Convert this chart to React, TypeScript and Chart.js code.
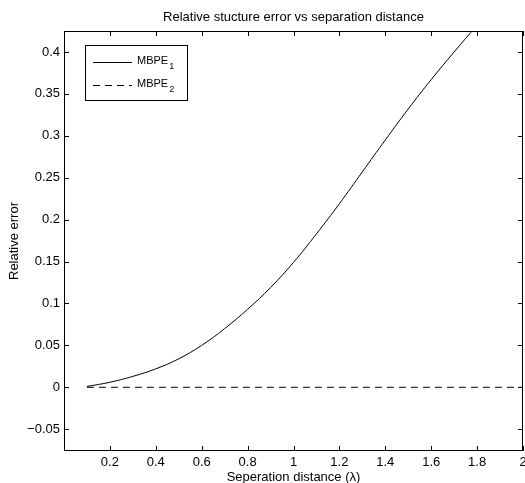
import { useEffect, useRef } from "react";
import { Chart, registerables } from "chart.js";

Chart.register(...registerables);

// ---- data ----
const xValues = [0.1, 0.2, 0.3, 0.4, 0.5, 0.6, 0.7, 0.8, 0.9, 1.0, 1.1, 1.2, 1.3, 1.4, 1.5, 1.6, 1.7, 1.8];
const mbpe1 = [0.001, 0.006, 0.013, 0.022, 0.034, 0.05, 0.07, 0.093, 0.119, 0.149, 0.183, 0.219, 0.257, 0.295, 0.332, 0.367, 0.4, 0.432];
const mbpe2X = [0.1, 2.0];
const mbpe2 = [0, 0];

const xTicks = [0, 0.2, 0.4, 0.6, 0.8, 1.0, 1.2, 1.4, 1.6, 1.8, 2.0];
const xTickLabels = ["", "0.2", "0.4", "0.6", "0.8", "1", "1.2", "1.4", "1.6", "1.8", "2"];
const yTicks = [-0.05, 0, 0.05, 0.1, 0.15, 0.2, 0.25, 0.3, 0.35, 0.4];
const yTickLabels = ["\u22120.05", "0", "0.05", "0.1", "0.15", "0.2", "0.25", "0.3", "0.35", "0.4"];

const titleText = "Relative stucture error vs separation distance";
const xTitle = "Seperation distance (\u03bb)";
const yTitle = "Relative error";
const legendNames = ["MBPE", "MBPE"];
const legendSubs = ["1", "2"];

const FONT = '"Liberation Sans", Arial, Helvetica, sans-serif';

const framePlugin = {
  id: "matlabFrame",
  afterDraw(chart: any) {
    const { ctx, chartArea: a, scales } = chart;
    const L = Math.round(a.left), R = Math.round(a.right), T = Math.round(a.top), B = Math.round(a.bottom);
    ctx.save();
    ctx.strokeStyle = "#000";
    ctx.lineWidth = 1;
    ctx.setLineDash([]);
    ctx.strokeRect(L + 0.5, T + 0.5, R - L - 1, B - T - 1);
    const tl = 5;
    ctx.beginPath();
    scales.x.ticks.forEach((t: any) => {
      const px = Math.round(scales.x.getPixelForValue(t.value)) + 0.5;
      ctx.moveTo(px, B);
      ctx.lineTo(px, B - tl);
      ctx.moveTo(px, T);
      ctx.lineTo(px, T + tl);
    });
    scales.y.ticks.forEach((t: any) => {
      const py = Math.round(scales.y.getPixelForValue(t.value)) + 0.5;
      ctx.moveTo(L, py);
      ctx.lineTo(L + tl, py);
      ctx.moveTo(R, py);
      ctx.lineTo(R - tl, py);
    });
    ctx.stroke();

    ctx.fillStyle = "#000";
    ctx.font = `13px ${FONT}`;
    ctx.textAlign = "center";
    ctx.textBaseline = "middle";
    const cx = (a.left + a.right) / 2;
    ctx.fillText(titleText, cx, 17);
    ctx.fillText(xTitle, cx, 477);
    ctx.save();
    ctx.translate(14, (a.top + a.bottom) / 2);
    ctx.rotate(-Math.PI / 2);
    ctx.fillText(yTitle, 0, 0);
    ctx.restore();

    // legend
    const lx = L + 21, ly = T + 14, lw = 102, lh = 55;
    ctx.fillStyle = "#fff";
    ctx.fillRect(lx, ly, lw, lh);
    ctx.strokeRect(lx + 0.5, ly + 0.5, lw, lh);
    const rows = [ly + 16.5, ly + 39.5];
    const dashes = [[], [7, 5]];
    rows.forEach((ry, i) => {
      ctx.beginPath();
      ctx.setLineDash(dashes[i]);
      ctx.moveTo(lx + 8, Math.round(ry) + 0.5);
      ctx.lineTo(lx + 47, Math.round(ry) + 0.5);
      ctx.stroke();
      ctx.setLineDash([]);
      ctx.fillStyle = "#000";
      ctx.textAlign = "left";
      ctx.textBaseline = "alphabetic";
      ctx.font = `11px ${FONT}`;
      const tx = lx + 52;
      ctx.fillText(legendNames[i], tx, ry + 2.5);
      const w = ctx.measureText(legendNames[i]).width;
      ctx.font = `9px ${FONT}`;
      ctx.fillText(legendSubs[i], tx + w + 1, ry + 7.5);
    });
    ctx.restore();
  },
};

export default function App() {
  const ref = useRef<HTMLCanvasElement>(null);
  useEffect(() => {
    if (!ref.current) return;
    const chart = new Chart(ref.current, {
      type: "line",
      data: {
        datasets: [
          {
            label: "MBPE1",
            data: xValues.map((x, i) => ({ x, y: mbpe1[i] })),
            borderColor: "#000",
            borderWidth: 1,
            pointRadius: 0,
            fill: false,
            tension: 0.4,
          },
          {
            label: "MBPE2",
            data: mbpe2X.map((x, i) => ({ x, y: mbpe2[i] })),
            borderColor: "#000",
            borderWidth: 1,
            borderDash: [7, 5],
            pointRadius: 0,
            fill: false,
          },
        ],
      },
      options: {
        responsive: false,
        animation: false,
        events: [],
        devicePixelRatio: 1,
        layout: { padding: { top: 31, right: 2, left: 0, bottom: 0 } },
        plugins: {
          legend: { display: false },
          title: { display: false },
          tooltip: { enabled: false },
        },
        scales: {
          x: {
            type: "linear",
            min: 0,
            max: 2,
            grid: { display: false, drawTicks: false },
            border: { display: false },
            ticks: {
              padding: 4,
              color: "#000",
              autoSkip: false,
              maxRotation: 0,
              font: { family: FONT, size: 13 },
              callback: (_v: any, i: number) => xTickLabels[i],
            },
            afterBuildTicks: (s: any) => {
              s.ticks = xTicks.map((v) => ({ value: v }));
            },
            afterFit: (s: any) => {
              s.height = 32;
              s.paddingLeft = 0;
              s.paddingRight = 0;
            },
          },
          y: {
            type: "linear",
            min: -0.076,
            max: 0.425,
            grid: { display: false, drawTicks: false },
            border: { display: false },
            ticks: {
              padding: 4,
              color: "#000",
              autoSkip: false,
              font: { family: FONT, size: 13 },
              callback: (_v: any, i: number) => yTickLabels[i],
            },
            afterBuildTicks: (s: any) => {
              s.ticks = yTicks.map((v) => ({ value: v }));
            },
            afterFit: (s: any) => {
              s.width = 64;
              s.paddingTop = 0;
              s.paddingBottom = 0;
            },
          },
        },
      },
      plugins: [framePlugin],
    } as any);
    return () => chart.destroy();
  }, []);
  return (
    <canvas
      ref={ref}
      width={525}
      height={483}
      style={{ position: "absolute", left: 0, top: 0, width: 525, height: 483 }}
    />
  );
}
